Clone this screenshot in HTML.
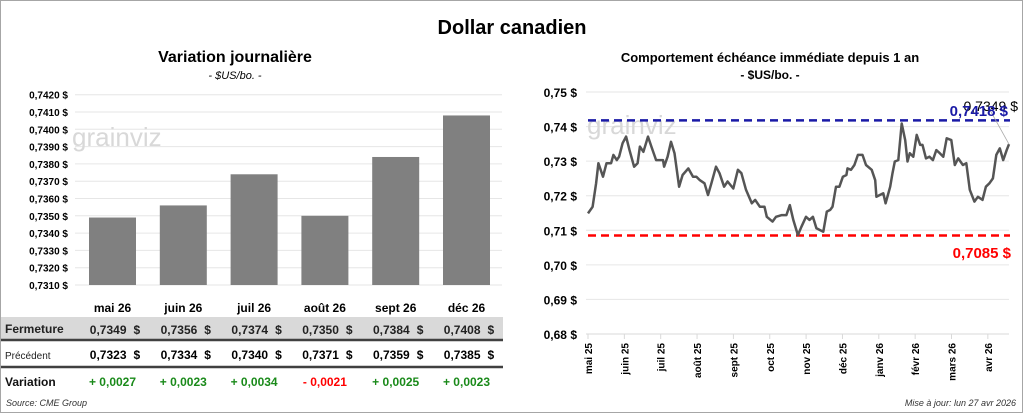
<!DOCTYPE html>
<html><head><meta charset="utf-8"><style>
body{margin:0;background:#fff;}
#wrap{position:relative;width:1024px;height:414px;overflow:hidden;font-family:"Liberation Sans",sans-serif;}
svg text{font-family:"Liberation Sans",sans-serif;}
</style></head><body>
<div id="wrap">
<svg id="s" width="1024" height="414" viewBox="0 0 1024 414">
<rect x="0.5" y="0.5" width="1022" height="412" fill="#fff" stroke="#a6a6a6"/>
<text x="512" y="34" text-anchor="middle" font-size="20" font-weight="bold">Dollar canadien</text>
<text x="235" y="62" text-anchor="middle" font-size="16" font-weight="bold">Variation journalière</text>
<text x="235" y="79" text-anchor="middle" font-size="11" font-style="italic">- $US/bo. -</text>
<text x="770" y="62" text-anchor="middle" font-size="13" font-weight="bold">Comportement échéance immédiate depuis 1 an</text>
<text x="770" y="79" text-anchor="middle" font-size="12" font-weight="bold">- $US/bo. -</text>
<g id="left"></g>
<g id="right"></g>
<g id="table"></g>
<text x="6" y="406" font-size="9" font-style="italic" fill="#333">Source: CME Group</text>
<text x="1016" y="406" text-anchor="end" font-size="9" font-style="italic" fill="#333">Mise à jour: lun 27 avr 2026</text>
</svg>
</div>
<script>
const barCats=["mai 26","juin 26","juil 26","août 26","sept 26","déc 26"];
const barVals=[0.7349,0.7356,0.7374,0.7350,0.7384,0.7408];
const prevVals=[0.7323,0.7334,0.7340,0.7371,0.7359,0.7385];
const varVals=[0.0027,0.0023,0.0034,-0.0021,0.0025,0.0023];
const barTicks=[0.7310,0.7320,0.7330,0.7340,0.7350,0.7360,0.7370,0.7380,0.7390,0.7400,0.7410,0.7420];
const lineMonths=["mai 25","juin 25","juil 25","août 25","sept 25","oct 25","nov 25","déc 25","janv 26","févr 26","mars 26","avr 26"];
const lineTicks=[0.68,0.69,0.70,0.71,0.72,0.73,0.74,0.75];
const lineDays=[0,4,7,9,13,16,20,22,25,27,30,33,36,40,43,45,48,52,55,59,65,66,69,72,75,79,82,87,91,94,97,101,104,107,111,114,118,121,126,130,133,137,142,145,149,153,155,160,163,168,172,175,178,182,185,189,192,195,198,204,207,210,212,215,218,221,224,225,228,231,234,238,241,246,249,250,253,256,258,262,264,266,269,272,275,277,279,282,285,288,290,293,296,299,302,305,308,311,315,318,321,325,328,331,335,338,342,345,348,351,354,357,360,363,365];
const lineVals=[0.7149,0.7168,0.7236,0.7294,0.7255,0.7294,0.7294,0.7318,0.7303,0.7313,0.7352,0.7371,0.7332,0.7284,0.7294,0.7342,0.7327,0.7371,0.7342,0.7303,0.7303,0.7284,0.7313,0.7356,0.7323,0.7226,0.7260,0.7279,0.7255,0.7255,0.7245,0.7236,0.7202,0.7236,0.7284,0.7265,0.7226,0.7241,0.7221,0.7275,0.7265,0.7217,0.7178,0.7188,0.7168,0.7168,0.7139,0.7125,0.7139,0.7144,0.7144,0.7173,0.7130,0.7086,0.7110,0.7139,0.7130,0.7139,0.7106,0.7096,0.7154,0.7159,0.7168,0.7226,0.7226,0.7255,0.7260,0.7279,0.7275,0.7289,0.7318,0.7318,0.7289,0.7275,0.7245,0.7197,0.7202,0.7207,0.7178,0.7226,0.7265,0.7299,0.7303,0.7409,0.7361,0.7299,0.7323,0.7313,0.7376,0.7347,0.7347,0.7308,0.7313,0.7303,0.7332,0.7323,0.7313,0.7366,0.7361,0.7289,0.7308,0.7289,0.7294,0.7217,0.7183,0.7197,0.7188,0.7226,0.7236,0.7250,0.7318,0.7337,0.7303,0.7332,0.7349];
const maxVal=0.7418, minVal=0.7085;
const NS="http://www.w3.org/2000/svg";
function mk(parent,tag,attrs,txt){const e=document.createElementNS(NS,tag);for(const k in attrs)e.setAttribute(k,attrs[k]);if(txt!==undefined)e.textContent=txt;parent.appendChild(e);return e;}
const fmt=(v,d)=>v.toFixed(d).replace('.',',');
// left chart
const L=document.getElementById('left');
const ly=v=>285-(v-0.731)*17300;
const lx=i=>112.5+i*70.8;
barTicks.forEach(t=>{
 const g=mk(L,'line',{x1:75,x2:502,y1:ly(t),y2:ly(t),stroke:'#e6e6e6'});
 
 
 const tx=mk(L,'text',{x:68,y:ly(t)+4,'text-anchor':'end','font-size':10,'font-weight':'bold'},fmt(t,4)+' $');
 
 
});
const wm1=mk(L,'text',{x:72,y:146,'font-size':26,fill:'#d8d8d8'},'grainviz');


barVals.forEach((v,i)=>{
 const r=mk(L,'rect',{x:lx(i)-23.5,y:ly(v),width:47,height:ly(0.731)-ly(v),fill:'#808080'});
 
 
});
// table
const T=document.getElementById('table');
const bg=mk(T,'rect',{x:1,y:317,width:502,height:23,fill:'#d9d9d9'});


[340,367].forEach(y=>{const ln=mk(T,'line',{x1:1,x2:503,y1:y,y2:y,stroke:'#404040','stroke-width':2.5});
 
 });
const h1=mk(T,'text',{x:5,y:333,'font-size':12,'font-weight':'bold',fill:'#222'},'Fermeture');

const h2=mk(T,'text',{x:5,y:359,'font-size':10,fill:'#222'},'Précédent');

const h3=mk(T,'text',{x:5,y:386,'font-size':12,'font-weight':'bold',fill:'#111'},'Variation');

barCats.forEach((c,i)=>{
 const cx=lx(i);
 const a=mk(T,'text',{x:cx,y:312,'text-anchor':'middle','font-size':12,'font-weight':'bold'},c);
 
 const b=mk(T,'text',{x:cx+14,y:334,'text-anchor':'end','font-size':12,'font-weight':'bold',fill:'#222'},fmt(barVals[i],4));
 
 const b2=mk(T,'text',{x:cx+21,y:334,'font-size':12,'font-weight':'bold',fill:'#222'},'$');
 
 const p=mk(T,'text',{x:cx+14,y:359,'text-anchor':'end','font-size':12,'font-weight':'bold'},fmt(prevVals[i],4));
 
 const p2=mk(T,'text',{x:cx+21,y:359,'font-size':12,'font-weight':'bold'},'$');
 
 const d=varVals[i];
 const dv=mk(T,'text',{x:cx,y:386,'text-anchor':'middle','font-size':12,'font-weight':'bold',fill:d>=0?'#1a8a1a':'#ff0000'},(d>=0?'+ ':'- ')+fmt(Math.abs(d),4));
 
});
// right chart
const R=document.getElementById('right');
const x0=588,x1=1009;
const ry=v=>334-(v-0.68)*3457;
const rx=d=>x0+(x1-x0)*d/365;
lineTicks.forEach(t=>{
 const g=mk(R,'line',{x1:586,x2:1009,y1:ry(t),y2:ry(t),stroke:t===0.68?'#d9d9d9':'#e6e6e6'});
 
 const tx=mk(R,'text',{x:577,y:ry(t)+5,'text-anchor':'end','font-size':12,'font-weight':'bold'},fmt(t,2)+' $');
 
});
lineMonths.forEach((m,i)=>{
 const x=588+i*36.35;
 const tk=mk(R,'line',{x1:x,x2:x,y1:334,y2:339,stroke:'#d9d9d9'});
 
 const tx=mk(R,'text',{transform:`translate(${x+4},343) rotate(-90)`,'text-anchor':'end','font-size':10,'font-weight':'bold'},m);
 
});
const wm2=mk(R,'text',{x:587,y:134,'font-size':26,fill:'#d8d8d8'},'grainviz');

const hi=mk(R,'line',{x1:588,x2:1010,y1:ry(maxVal),y2:ry(maxVal),stroke:'#1a1aa6','stroke-width':2.5,'stroke-dasharray':'8,5'});

const lo=mk(R,'line',{x1:588,x2:1010,y1:ry(minVal),y2:ry(minVal),stroke:'#ff0000','stroke-width':2.5,'stroke-dasharray':'8,5'});

const n=Math.min(lineDays.length,lineVals.length);
const pts=[];for(let i=0;i<n;i++)pts.push(rx(lineDays[i]).toFixed(1)+','+ry(lineVals[i]).toFixed(1));
const pl=mk(R,'polyline',{points:pts.join(' '),fill:'none',stroke:'#555','stroke-width':2.5,'stroke-linejoin':'round'});

const last=lineVals[n-1];
const cn=mk(R,'line',{x1:990,y1:110,x2:rx(lineDays[n-1]),y2:ry(last),stroke:'#aaa','stroke-width':0.8});

const lb=mk(R,'text',{x:1018,y:111,'text-anchor':'end','font-size':14,fill:'#000'},fmt(last,4)+' $');

const mb=mk(R,'text',{x:1008,y:116,'text-anchor':'end','font-size':15,'font-weight':'bold',fill:'#1a1aa6'},fmt(maxVal,4)+' $');

const nb=mk(R,'text',{x:1011,y:258,'text-anchor':'end','font-size':15,'font-weight':'bold',fill:'#ff0000'},fmt(minVal,4)+' $');

</script>
</body></html>
